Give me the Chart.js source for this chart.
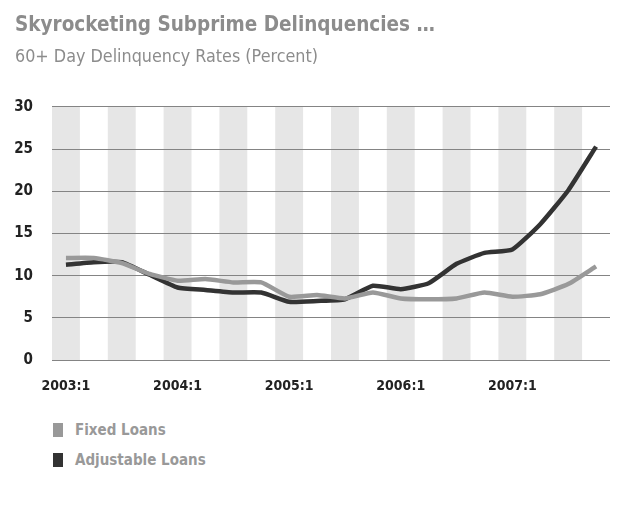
<!DOCTYPE html>
<html>
<head>
<meta charset="utf-8">
<script src="https://cdn.jsdelivr.net/npm/chart.js@4"></script>
<style>
  body { margin: 0; background: #fff; }
  #wrap { position: relative; width: 632px; height: 515px; }
  #chartBox { position: absolute; left: 0; top: 0; width: 632px; height: 400px; }
  #legend { position: absolute; left: 53px; top: 415px; font-family: 'DejaVu Sans Condensed', 'DejaVu Sans', sans-serif; }
  .leg-item { display: flex; align-items: center; height: 30px; }
  .leg-box { width: 10px; height: 14px; margin-right: 12px; }
  .leg-text { font-size: 15px; font-weight: bold; color: #999; }
</style>
</head>
<body>
<div id="wrap">
  <div id="chartBox"><canvas id="chart"></canvas></div>
  <div id="legend"></div>
</div>
<script>
// Quarterly categories, 2003:1 - 2007:4
const quarters = [
  '2003:1', '2003:2', '2003:3', '2003:4',
  '2004:1', '2004:2', '2004:3', '2004:4',
  '2005:1', '2005:2', '2005:3', '2005:4',
  '2006:1', '2006:2', '2006:3', '2006:4',
  '2007:1', '2007:2', '2007:3', '2007:4'
];

// 60+ day delinquency rates (percent)
const fixedLoans = [
  12.1, 12.1, 11.5, 10.2, 9.4, 9.6, 9.2, 9.2, 7.5, 7.7,
  7.3, 8.0, 7.3, 7.2, 7.3, 8.0, 7.5, 7.8, 9.0, 11.1
];
const adjustableLoans = [
  11.3, 11.6, 11.6, 10.1, 8.6, 8.3, 8.0, 8.0, 6.9, 7.0,
  7.2, 8.8, 8.4, 9.1, 11.4, 12.7, 13.1, 16.1, 20.1, 25.3
];

// y axis ticks
const yTicks = [0, 5, 10, 15, 20, 25, 30];

const fontFamily = "'DejaVu Sans Condensed', 'DejaVu Sans', sans-serif";

// Alternating quarter stripes behind the plot
const stripePlugin = {
  id: 'stripes',
  beforeDraw: function (chart) {
    const ctx = chart.ctx;
    const x = chart.scales.x;
    const area = chart.chartArea;
    const w = (area.right - area.left) / quarters.length;
    ctx.save();
    ctx.fillStyle = '#e6e6e6';
    for (let i = 0; i < quarters.length; i += 2) {
      const cx = x.getPixelForValue(i);
      ctx.fillRect(cx - w / 2, area.top, w, area.bottom - area.top);
    }
    ctx.restore();
  }
};

const ctx = document.getElementById('chart');
const chart = new Chart(ctx, {
  type: 'line',
  data: {
    labels: quarters,
    datasets: [
      {
        label: 'Fixed Loans',
        data: fixedLoans,
        borderColor: '#999999',
        backgroundColor: '#999999',
        borderWidth: 4.5,
        pointRadius: 0,
        tension: 0.15
      },
      {
        label: 'Adjustable Loans',
        data: adjustableLoans,
        borderColor: '#333333',
        backgroundColor: '#333333',
        borderWidth: 4.5,
        pointRadius: 0,
        tension: 0.15
      }
    ]
  },
  options: {
    responsive: true,
    maintainAspectRatio: false,
    animation: false,
    layout: {
      padding: { left: 15, right: 22, top: 0, bottom: 0 }
    },
    plugins: {
      legend: { display: false },
      tooltip: { enabled: false },
      title: {
        display: true,
        text: 'Skyrocketing Subprime Delinquencies …',
        align: 'start',
        color: '#8c8c8c',
        font: { family: fontFamily, size: 20.5, weight: 'bold' },
        padding: { top: 13.5, bottom: 0 }
      },
      subtitle: {
        display: true,
        text: '60+ Day Delinquency Rates (Percent)',
        align: 'start',
        color: '#8c8c8c',
        font: { family: fontFamily, size: 17.8 },
        padding: { top: 8.3, bottom: 39.2 }
      }
    },
    scales: {
      x: {
        offset: true,
        grid: { display: false },
        border: { display: false },
        ticks: {
          autoSkip: false,
          maxRotation: 0,
          color: '#222',
          font: { family: fontFamily, size: 14, weight: 'bold' },
          padding: 10,
          callback: function (val, i) {
            return i % 4 === 0 ? quarters[i] : '';
          }
        },
        afterFit: function (scale) {
          scale.height = 40;
        }
      },
      y: {
        min: 0,
        max: 30,
        border: { display: false },
        grid: { color: '#848484', lineWidth: 1, drawTicks: false },
        afterBuildTicks: function (scale) {
          scale.ticks = yTicks.map(function (v) { return { value: v }; });
        },
        ticks: {
          color: '#222',
          padding: 19,
          font: { family: fontFamily, size: 15, weight: 'bold' }
        },
        afterFit: function (scale) {
          scale.width = 37;
        }
      }
    }
  },
  plugins: [stripePlugin]
});

// Legend built from the chart's own datasets
const legendEl = document.getElementById('legend');
chart.data.datasets.forEach(function (ds) {
  const item = document.createElement('div');
  item.className = 'leg-item';
  item.innerHTML =
    '<div class="leg-box" style="background:' + ds.borderColor + '"></div>' +
    '<span class="leg-text">' + ds.label + '</span>';
  legendEl.appendChild(item);
});
</script>
</body>
</html>
